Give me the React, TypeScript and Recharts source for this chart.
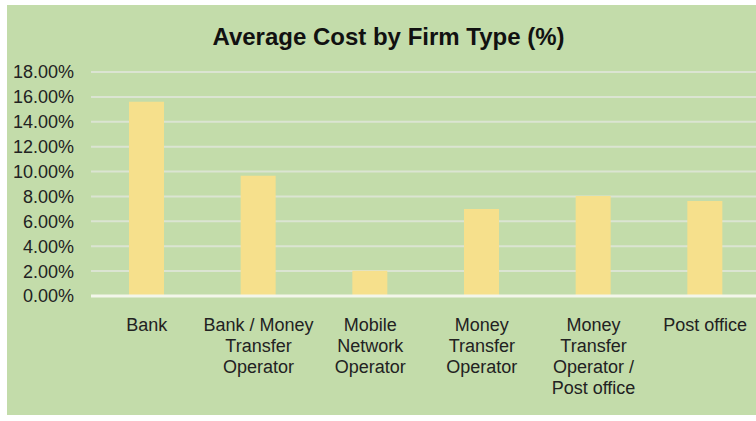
import React from 'react';
import { BarChart, Bar, XAxis, YAxis, CartesianGrid, ReferenceLine } from 'recharts';

const categories = [
  'Bank',
  'Bank / Money Transfer Operator',
  'Mobile Network Operator',
  'Money Transfer Operator',
  'Money Transfer Operator / Post office',
  'Post office',
];
const tickLines = [
  ['Bank'],
  ['Bank / Money', 'Transfer', 'Operator'],
  ['Mobile', 'Network', 'Operator'],
  ['Money', 'Transfer', 'Operator'],
  ['Money', 'Transfer', 'Operator /', 'Post office'],
  ['Post office'],
];
const avgCost = [15.6, 9.67, 2.03, 7.0, 8.04, 7.64];
const yTicks = [0, 2, 4, 6, 8, 10, 12, 14, 16, 18];

const data = categories.map((name, i) => ({ name, cost: avgCost[i] }));

const FONT = '"Liberation Sans", Arial, Helvetica, sans-serif';

const CategoryTick = (props: any) => {
  const { x, y, index } = props;
  const lines = tickLines[index] || [];
  return (
    <text x={x} y={y + 35} textAnchor="middle" fill="#222" fontSize={18} fontFamily={FONT}>
      {lines.map((l, i) => (
        <tspan key={i} x={x} dy={i === 0 ? 0 : 21}>
          {l}
        </tspan>
      ))}
    </text>
  );
};

export default function App() {
  return (
    <div style={{ position: 'absolute', left: 0, top: 0, width: 756, height: 421, background: '#fff', overflow: 'hidden' }}>
      <div style={{ position: 'absolute', left: 7, top: 5, width: 760, height: 410, background: '#c3dcaa' }}>
        <div
          style={{
            position: 'absolute',
            left: 0,
            width: 763,
            top: 18,
            textAlign: 'center',
            fontFamily: FONT,
            fontWeight: 'bold',
            fontSize: 24,
            color: '#111',
          }}
        >
          Average Cost by Firm Type (%)
        </div>
        <BarChart
          width={754}
          height={410}
          data={data}
          margin={{ top: 67, right: 0, left: 0, bottom: 9 }}
          barSize={35}
        >
          <CartesianGrid horizontal vertical={false} stroke="#dbe4d2" strokeWidth={2} />
          <XAxis
            dataKey="name"
            axisLine={false}
            tickLine={false}
            tickSize={0}
            tickMargin={0}
            height={110}
            interval={0}
            tick={<CategoryTick />}
          />
          <YAxis
            domain={[0, 18]}
            ticks={yTicks}
            interval={0}
            width={84}
            axisLine={false}
            tickLine={false}
            tickSize={0}
            tickMargin={17}
            tickFormatter={(v: number) => `${v.toFixed(2)}%`}
            tick={{ fill: '#222', fontSize: 18, fontFamily: FONT }}
          />
          <Bar dataKey="cost" fill="#f6e08c" isAnimationActive={false} />
          <ReferenceLine y={0} stroke="#f3f6ea" strokeWidth={3} />
        </BarChart>
      </div>
    </div>
  );
}
